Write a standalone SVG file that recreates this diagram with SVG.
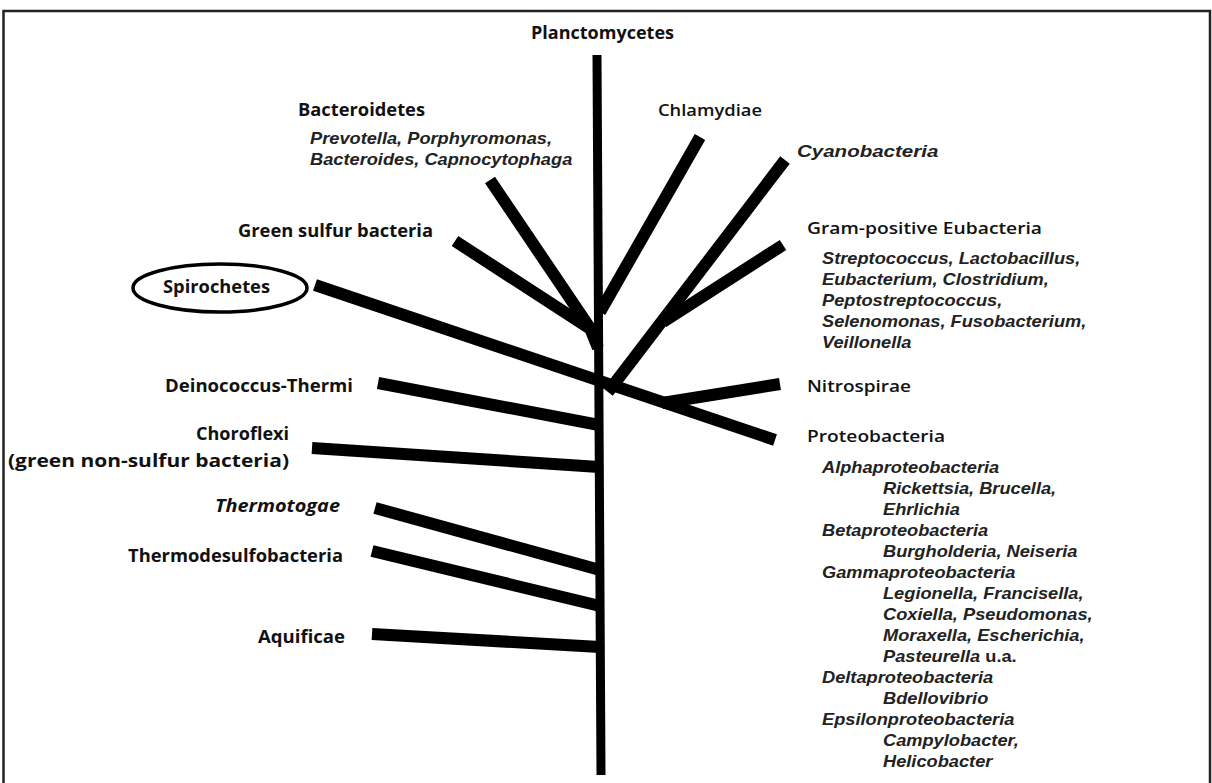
<svg xmlns="http://www.w3.org/2000/svg" width="1212" height="783" viewBox="0 0 1212 783">
<style>
.lab{font-family:"Open Sans","Liberation Sans",sans-serif;font-size:17px;font-weight:bold;fill:#111}
.labr{font-family:"Open Sans","Liberation Sans",sans-serif;font-size:17px;font-weight:600;fill:#111}
.it{font-family:"Liberation Sans",Arial,sans-serif;font-size:16px;font-weight:bold;font-style:italic;fill:#222}
.br{stroke:#000;stroke-width:12;fill:none;stroke-linecap:butt}
.trunk{stroke:#000;stroke-width:9;fill:none}
</style>
<rect x="0" y="0" width="1212" height="783" fill="#fff"/>
<path d="M3.5,795 V11 H1210 V795" fill="none" stroke="#222" stroke-width="2.5"/>
<g id="connectors">
<line class="trunk" x1="597" y1="55" x2="601" y2="775"/>
<polyline class="br" points="490,180 590,328 598,348"/>
<line class="br" x1="455" y1="241" x2="592" y2="330"/>
<line class="br" x1="315" y1="285" x2="775" y2="440"/>
<line class="br" x1="780" y1="384" x2="662" y2="403"/>
<line class="br" x1="700" y1="137" x2="600" y2="312"/>
<line class="br" x1="785" y1="160" x2="608" y2="392"/>
<line class="br" x1="783" y1="245" x2="663" y2="322"/>
<line class="br" x1="378" y1="383" x2="599" y2="425"/>
<line class="br" x1="312" y1="448" x2="599" y2="467"/>
<line class="br" x1="375" y1="508" x2="600" y2="570"/>
<line class="br" x1="372" y1="551" x2="600" y2="606"/>
<line class="br" x1="372" y1="634" x2="600" y2="647"/>
</g>
<g id="planctomycetes"><text class="lab" x="531" y="39" textLength="143" lengthAdjust="spacingAndGlyphs">Planctomycetes</text></g>
<g id="bacteroidetes">
<text class="lab" x="298" y="116" textLength="127" lengthAdjust="spacingAndGlyphs">Bacteroidetes</text>
<g transform="translate(310,0) scale(1.14,1)">
<text class="it" x="0" y="144">Prevotella, Porphyromonas,</text>
<text class="it" x="0" y="165">Bacteroides, Capnocytophaga</text>
</g>
</g>
<g id="green-sulfur"><text class="lab" x="238" y="237" textLength="195" lengthAdjust="spacingAndGlyphs">Green sulfur bacteria</text></g>
<g id="spirochetes">
<ellipse cx="220" cy="288" rx="87" ry="24" fill="none" stroke="#000" stroke-width="3.5"/>
<text class="lab" x="163" y="293" textLength="107" lengthAdjust="spacingAndGlyphs">Spirochetes</text>
</g>
<g id="deinococcus"><text class="lab" x="165" y="392" textLength="188" lengthAdjust="spacingAndGlyphs">Deinococcus-Thermi</text></g>
<g id="choroflexi">
<text class="lab" x="196" y="440" textLength="93" lengthAdjust="spacingAndGlyphs">Choroflexi</text>
<text class="lab" x="8" y="467" textLength="281" lengthAdjust="spacingAndGlyphs">(green non-sulfur bacteria)</text>
</g>
<g id="thermotogae"><text class="lab" x="215" y="512" font-style="italic" textLength="125" lengthAdjust="spacingAndGlyphs">Thermotogae</text></g>
<g id="thermodesulfobacteria"><text class="lab" x="128" y="562" textLength="215" lengthAdjust="spacingAndGlyphs">Thermodesulfobacteria</text></g>
<g id="aquificae"><text class="lab" x="258" y="643" textLength="87" lengthAdjust="spacingAndGlyphs">Aquificae</text></g>
<g id="chlamydiae"><text class="labr" x="658" y="116" textLength="104" lengthAdjust="spacingAndGlyphs">Chlamydiae</text></g>
<g id="cyanobacteria"><g transform="translate(797,0) scale(1.14,1)"><text class="it" x="0" y="157" font-size="19" textLength="124" lengthAdjust="spacingAndGlyphs">Cyanobacteria</text></g></g>
<g id="gram-positive">
<text class="labr" x="807" y="234" textLength="235" lengthAdjust="spacingAndGlyphs">Gram-positive Eubacteria</text>
<g transform="translate(822,0) scale(1.14,1)">
<text class="it" x="0" y="264">Streptococcus, Lactobacillus,</text>
<text class="it" x="0" y="285">Eubacterium, Clostridium,</text>
<text class="it" x="0" y="306">Peptostreptococcus,</text>
<text class="it" x="0" y="327">Selenomonas, Fusobacterium,</text>
<text class="it" x="0" y="348">Veillonella</text>
</g>
</g>
<g id="nitrospirae"><text class="labr" x="807" y="392" textLength="104" lengthAdjust="spacingAndGlyphs">Nitrospirae</text></g>
<g id="proteobacteria">
<text class="labr" x="807" y="442" textLength="138" lengthAdjust="spacingAndGlyphs">Proteobacteria</text>
<g transform="translate(822,0) scale(1.14,1)">
<text class="it" x="0" y="473">Alphaproteobacteria</text>
<text class="it" x="53.5" y="494">Rickettsia, Brucella,</text>
<text class="it" x="53.5" y="515">Ehrlichia</text>
<text class="it" x="0" y="536">Betaproteobacteria</text>
<text class="it" x="53.5" y="557">Burgholderia, Neiseria</text>
<text class="it" x="0" y="578">Gammaproteobacteria</text>
<text class="it" x="53.5" y="599">Legionella, Francisella,</text>
<text class="it" x="53.5" y="620">Coxiella, Pseudomonas,</text>
<text class="it" x="53.5" y="641">Moraxella, Escherichia,</text>
<text class="it" x="53.5" y="662">Pasteurella <tspan font-style="normal">u.a.</tspan></text>
<text class="it" x="0" y="683">Deltaproteobacteria</text>
<text class="it" x="53.5" y="704">Bdellovibrio</text>
<text class="it" x="0" y="725">Epsilonproteobacteria</text>
<text class="it" x="53.5" y="746">Campylobacter,</text>
<text class="it" x="53.5" y="767">Helicobacter</text>
</g>
</g>
</svg>
